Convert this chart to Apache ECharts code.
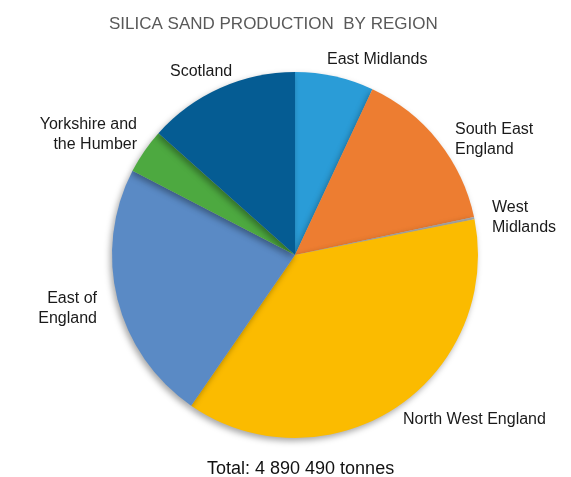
<!DOCTYPE html>
<html><head><meta charset="utf-8">
<script src="https://cdn.jsdelivr.net/npm/echarts@6/dist/echarts.min.js"></script>
<style>html,body{margin:0;padding:0;background:#fff}#c{width:571px;height:477px}</style>
</head><body><div id="c"></div>
<script>
var regions = ['East Midlands', 'South East\nEngland', 'West\nMidlands', 'North West England', 'East of\nEngland', 'Yorkshire and\nthe Humber', 'Scotland'];
var tonnes = [340000, 720000, 10000, 1845000, 1125000, 195000, 655490];
var colors = ['#2A9CD7', '#ED7D31', '#A5A5A5', '#FBBB00', '#5A8AC5', '#4DA940', '#055C93'];
var titleText = 'SILICA SAND PRODUCTION  BY REGION';
var totalText = 'Total: 4 890 490 tonnes';

// label anchor placement (layout only): [x, y(middle), align]
var labelPlace = [[327, 60, 'left'], [455, 140, 'left'], [492, 218, 'left'], [403, 420, 'left'], [97, 309, 'right'], [137, 135, 'right'], [170, 72, 'left']];

var FONT = 'Liberation Sans, Arial, sans-serif';
var chart = echarts.init(document.getElementById('c'), null, {renderer: 'canvas'});
chart.setOption({
  animation: false,
  title: [
    {text: titleText, left: 104, top: 11, textStyle: {fontFamily: FONT, fontSize: 17, fontWeight: 'normal', color: '#595959'}},
    {text: totalText, left: 202, top: 455, textStyle: {fontFamily: FONT, fontSize: 18, fontWeight: 'normal', color: '#111'}}
  ],
  series: [{
    type: 'pie',
    center: [295, 255],
    radius: 183,
    startAngle: 90,
    clockwise: true,
    avoidLabelOverlap: false,
    itemStyle: {shadowBlur: 6, shadowColor: 'rgba(0,0,0,0.35)', shadowOffsetX: -2, shadowOffsetY: 3},
    label: {show: true, position: 'outside', fontFamily: FONT, fontSize: 16, color: '#1a1a1a', lineHeight: 20},
    labelLine: {show: false},
    labelLayout: function (p) {
      var L = labelPlace[p.dataIndex];
      return {x: L[0], y: L[1], align: L[2], verticalAlign: 'middle'};
    },
    data: regions.map(function (r, i) {
      return {name: r, value: tonnes[i], itemStyle: {color: colors[i]}};
    })
  }]
});
</script></body></html>
